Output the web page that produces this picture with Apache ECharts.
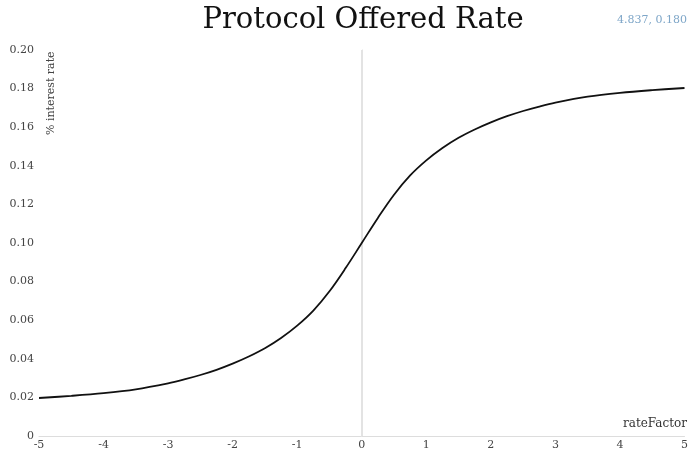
<!DOCTYPE html>
<html>
<head>
<meta charset="utf-8">
<script src="https://cdn.jsdelivr.net/npm/echarts@6/dist/echarts.min.js"></script>
<style>html,body{margin:0;padding:0;background:#fff}#c{width:691px;height:452px}</style>
</head>
<body>
<div id="c"></div>
<script>
const titleText = 'Protocol Offered Rate';
const xName = 'rateFactor';
const yName = '% interest rate';
const cursorText = '4.837, 0.180';
const xTicks = [-5, -4, -3, -2, -1, 0, 1, 2, 3, 4, 5];
const yTicks = [0, 0.02, 0.04, 0.06, 0.08, 0.10, 0.12, 0.14, 0.16, 0.18, 0.20];
const refLineX = 0;
const xValues = [-5, -4.5, -4, -3.5, -3, -2.75, -2.5, -2.25, -2, -1.75, -1.5, -1.25, -1, -0.75, -0.5, -0.25,
  0, 0.25, 0.5, 0.75, 1, 1.25, 1.5, 1.75, 2, 2.25, 2.5, 2.75, 3, 3.5, 4, 4.5, 5];
const rateValues = [0.0197, 0.0208, 0.0222, 0.0242, 0.0273, 0.0293, 0.0316, 0.0343, 0.0375, 0.0412, 0.0455, 0.0508, 0.0572, 0.0650, 0.0750, 0.0870,
  0.1000, 0.1130, 0.1250, 0.1350, 0.1428, 0.1492, 0.1545, 0.1588, 0.1625, 0.1657, 0.1684, 0.1707, 0.1727, 0.1758, 0.1778, 0.1792, 0.1803];

const serif = '"DejaVu Serif", "Liberation Serif", serif';
const chart = echarts.init(document.getElementById('c'));
chart.setOption({
  animation: false,
  grid: { left: 39, right: 4, top: 50, bottom: 16 },
  xAxis: {
    type: 'value', min: -5, max: 5, interval: 1,
    axisLine: { lineStyle: { color: '#dddddd' } },
    axisTick: { show: false },
    splitLine: { show: false },
    axisLabel: { fontFamily: serif, fontSize: 11, color: '#444', margin: 4,
      formatter: v => xTicks.includes(v) ? String(v) : '' }
  },
  yAxis: {
    type: 'value', min: 0, max: 0.2, interval: 0.02,
    axisLine: { show: true, lineStyle: { color: '#dddddd' } },
    axisTick: { show: false },
    splitLine: { show: false },
    axisLabel: { fontFamily: serif, fontSize: 11, color: '#444', margin: 5,
      formatter: v => { const t = yTicks.find(y => Math.abs(y - v) < 1e-9); return t === 0 ? '0' : t.toFixed(2); } }
  },
  graphic: [
    { type: 'text', x: 363, y: 6, style: { text: titleText, fontFamily: serif, fontSize: 29, fill: '#111', textAlign: 'center' } },
    { type: 'text', right: 4, top: 15, style: { text: cursorText, fontFamily: serif, fontSize: 11, fill: '#7ea6c8' } },
    { type: 'text', right: 4, top: 418, style: { text: xName, fontFamily: serif, fontSize: 12, fill: '#333' } },
    { type: 'text', x: 46, y: 135, rotation: Math.PI / 2, style: { text: yName, fontFamily: serif, fontSize: 11, fill: '#444' } }
  ],
  series: [{
    type: 'line',
    z: 1,
    data: [],
    markLine: {
      silent: true, symbol: 'none', label: { show: false },
      lineStyle: { color: '#e3e3e3', width: 2, type: 'solid' },
      data: [{ xAxis: refLineX }]
    }
  }, {
    type: 'line',
    z: 5,
    data: xValues.map((x, i) => [x, rateValues[i]]),
    smooth: 0.35,
    showSymbol: false,
    lineStyle: { color: '#111', width: 1.8 }
  }]
});
</script>
</body>
</html>
